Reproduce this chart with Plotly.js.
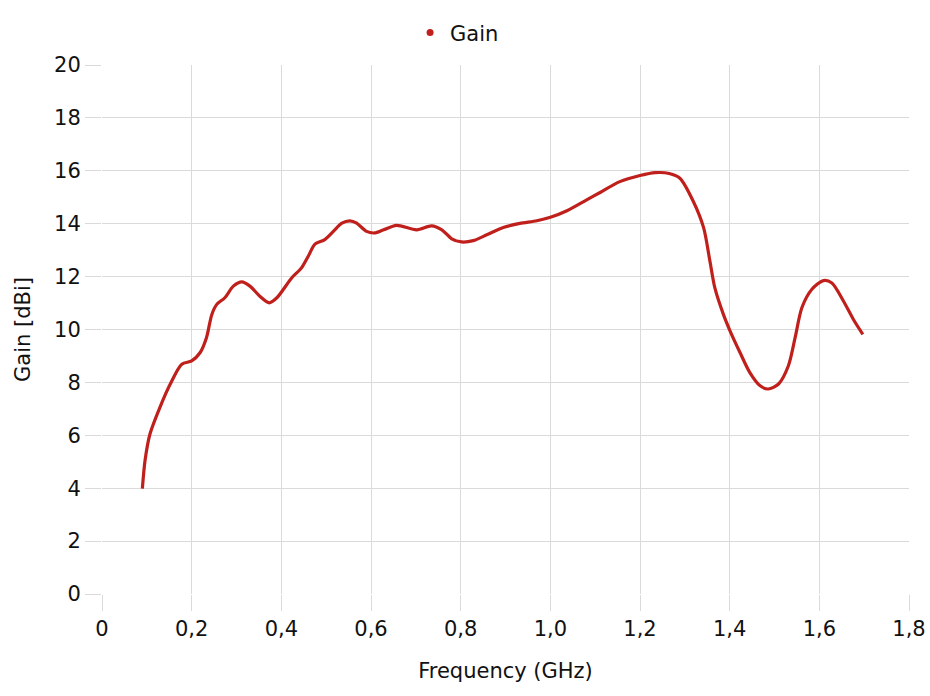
<!DOCTYPE html>
<html><head><meta charset="utf-8">
<script src="https://cdn.plot.ly/plotly-3.0.1.min.js"></script>
<style>html,body{margin:0;padding:0;background:#fff}#chart{width:930px;height:696px}</style>
</head><body><div id="chart"></div>
<script>
const seriesName = "Gain";
const frequencyGHz = [0.09,0.096,0.107,0.129,0.152,0.178,0.2,0.219,0.233,0.245,0.256,0.274,0.293,0.312,0.330,0.352,0.373,0.39,0.423,0.445,0.46,0.475,0.497,0.516,0.535,0.553,0.568,0.59,0.608,0.628,0.657,0.702,0.735,0.758,0.78,0.802,0.828,0.858,0.895,0.932,0.97,1.0,1.037,1.081,1.111,1.155,1.2,1.234,1.265,1.289,1.319,1.342,1.356,1.367,1.386,1.401,1.423,1.445,1.468,1.486,1.509,1.531,1.546,1.561,1.583,1.609,1.628,1.654,1.676,1.697];
const gainDBi = [3.98,5.05,6.05,7.05,7.93,8.69,8.81,9.13,9.69,10.57,10.95,11.2,11.64,11.8,11.64,11.26,11.01,11.2,11.95,12.33,12.77,13.23,13.4,13.71,14.02,14.11,14.02,13.71,13.65,13.77,13.94,13.77,13.92,13.77,13.43,13.31,13.36,13.58,13.86,14.01,14.11,14.24,14.49,14.9,15.18,15.59,15.82,15.93,15.9,15.72,14.84,13.84,12.58,11.57,10.57,9.94,9.13,8.37,7.87,7.75,7.94,8.63,9.69,10.82,11.51,11.85,11.76,11.07,10.38,9.82];
const xTickVals = [0,0.2,0.4,0.6,0.8,1.0,1.2,1.4,1.6,1.8];
const xTickText = ["0","0,2","0,4","0,6","0,8","1,0","1,2","1,4","1,6","1,8"];
const yTickVals = [0,2,4,6,8,10,12,14,16,18,20];
const lineColor = "#c0201c";
const fontFam = "DejaVu Sans, sans-serif";
const gridColor = "#dadada";

const traces = [
  {x: frequencyGHz, y: gainDBi, type: "scatter", mode: "lines", name: seriesName, showlegend: false,
   line: {color: lineColor, width: 3.2, shape: "spline", smoothing: 0.8}, hoverinfo: "x+y"},
  {x: [null], y: [null], type: "scatter", mode: "markers", name: seriesName, showlegend: true,
   marker: {color: lineColor, size: 7}}
];
const layout = {
  width: 930, height: 696,
  margin: {l: 102, r: 21, t: 63, b: 102},
  paper_bgcolor: "#fff", plot_bgcolor: "#fff",
  font: {family: fontFam, size: 21, color: "#111"},
  showlegend: true,
  legend: {orientation: "h", x: 0.44, xanchor: "center", y: 1.022, yanchor: "bottom",
           font: {size: 21}, itemwidth: 30},
  xaxis: {range: [0, 1.8], tickvals: xTickVals, ticktext: xTickText, showgrid: true, gridcolor: gridColor, gridwidth: 1,
          zeroline: false, ticks: "outside", ticklen: 16, tickcolor: gridColor, tickwidth: 1, showline: false,
          title: {text: "Frequency (GHz)", font: {size: 21}, standoff: 23}, tickfont: {size: 21}},
  yaxis: {range: [0, 20], tickvals: yTickVals, showgrid: true, gridcolor: gridColor, gridwidth: 1,
          zeroline: false, ticks: "outside", ticklen: 16, tickcolor: gridColor, tickwidth: 1, showline: false,
          title: {text: "Gain [dBi]", font: {size: 21}, standoff: 17}, tickfont: {size: 21}}
};
Plotly.newPlot("chart", traces, layout, {displayModeBar: false, staticPlot: true});
</script></body></html>
